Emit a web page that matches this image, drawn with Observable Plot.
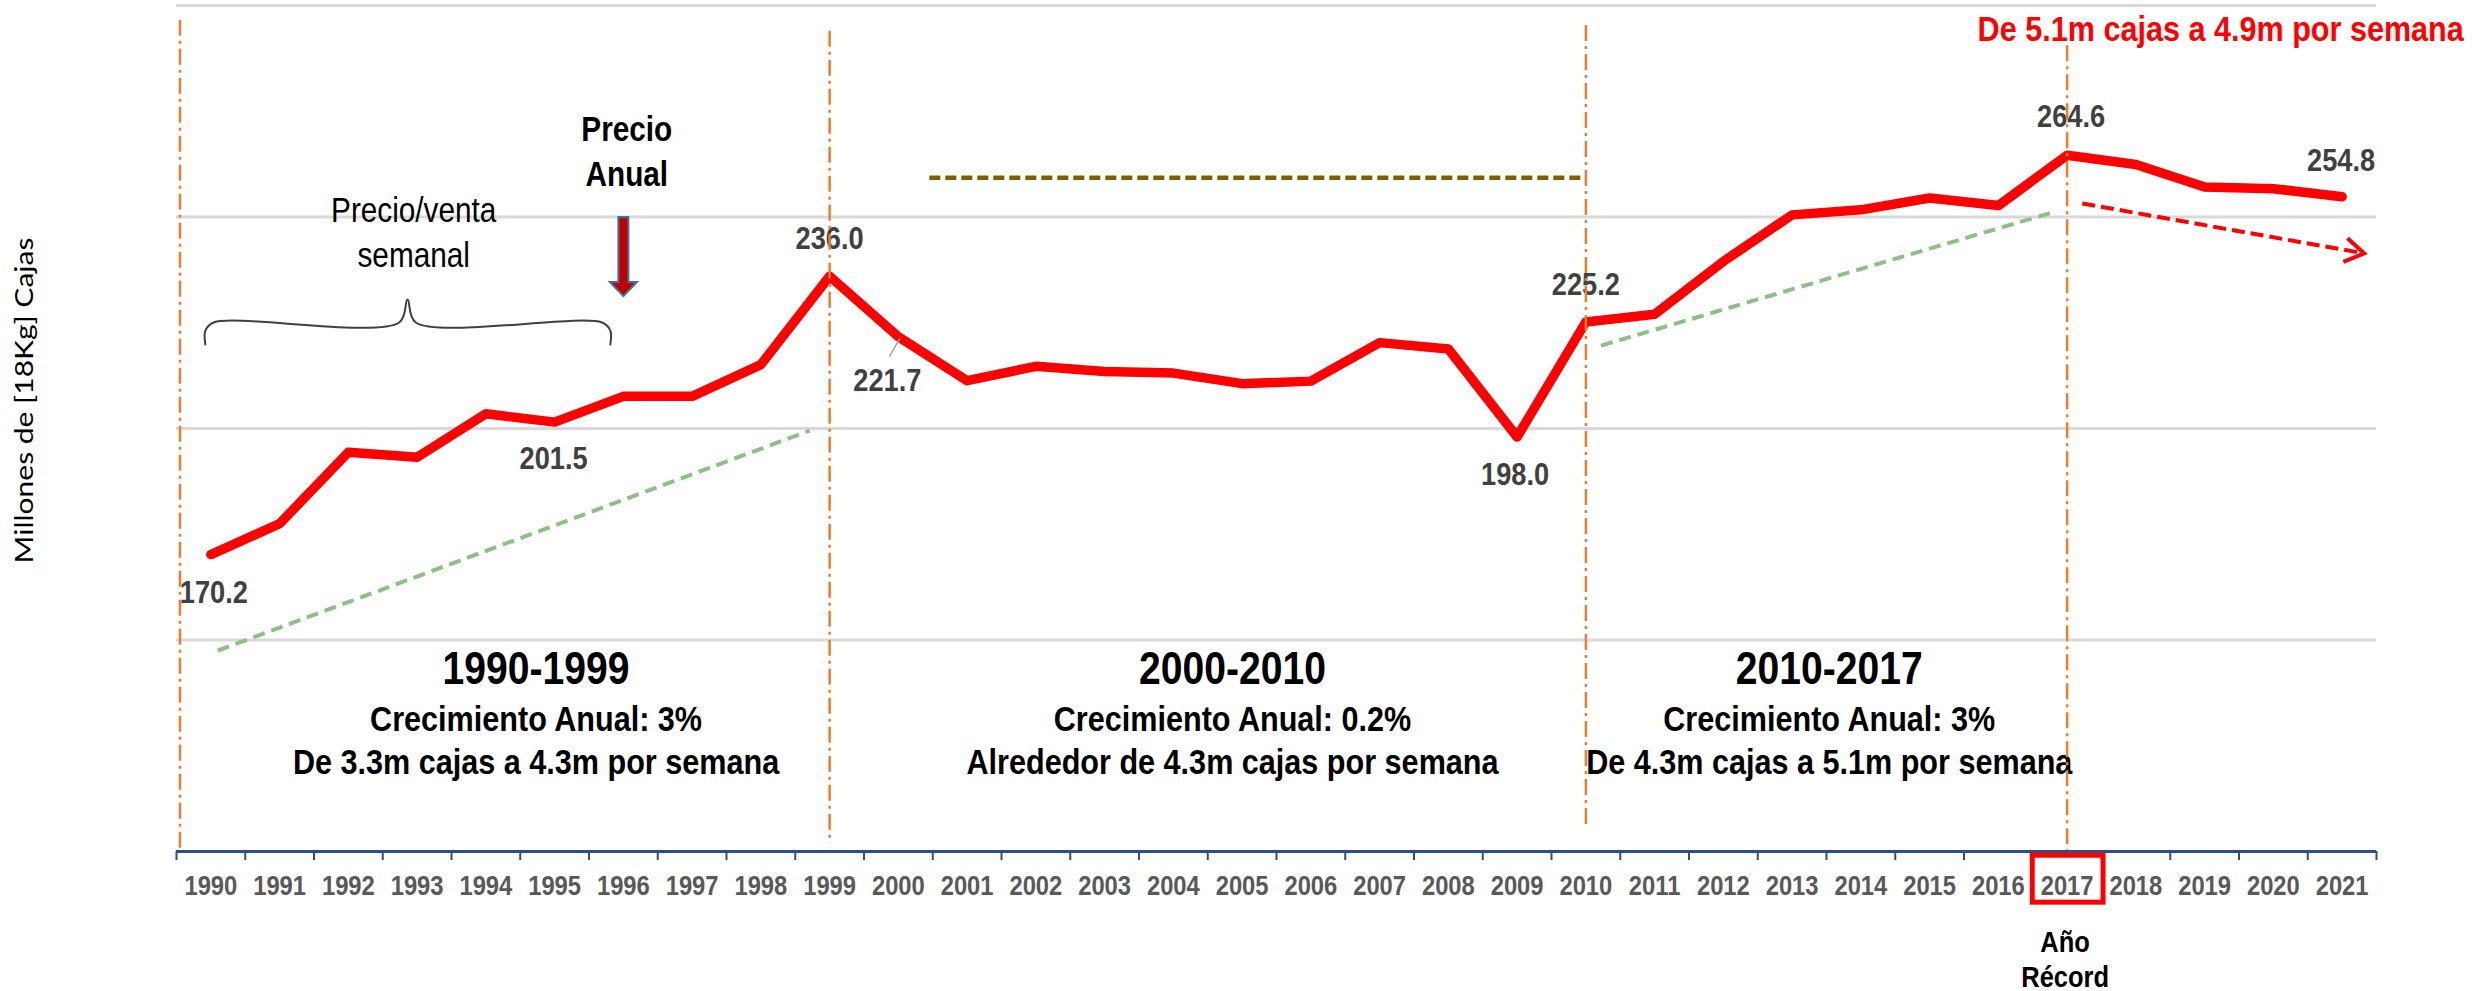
<!DOCTYPE html>
<html>
<head>
<meta charset="utf-8">
<script src="https://cdn.jsdelivr.net/npm/d3@7"></script>
<script src="https://cdn.jsdelivr.net/npm/@observablehq/plot@0.6"></script>
<style>
html, body { margin: 0; padding: 0; background: #ffffff; }
#chart svg { display: block; }
</style>
</head>
<body>
<div id="chart"></div>
<script>
// ---------- DATA ----------
const years = [1990, 1991, 1992, 1993, 1994, 1995, 1996, 1997, 1998, 1999,
               2000, 2001, 2002, 2003, 2004, 2005, 2006, 2007, 2008, 2009,
               2010, 2011, 2012, 2013, 2014, 2015, 2016, 2017, 2018, 2019,
               2020, 2021];
const boxes = [170.2, 177.5, 194.4, 193.2, 203.5, 201.5, 207.6, 207.6, 215.1, 236.0,
               221.7, 211.3, 214.7, 213.5, 213.1, 210.6, 211.2, 220.3, 218.8, 198.0,
               225.2, 227.0, 239.5, 250.5, 251.7, 254.5, 252.7, 264.6, 262.4, 257.1,
               256.7, 254.8];
const labelYears = [1990, 1995, 1999, 2000, 2009, 2010, 2017, 2021];
const gridValues = [150, 200, 250, 300];
const periodNames = ["1990-1999", "2000-2010", "2010-2017"];
const periodGrowth = ["Crecimiento Anual: 3%", "Crecimiento Anual: 0.2%", "Crecimiento Anual: 3%"];
const periodDetail = ["De 3.3m cajas a 4.3m por semana", "Alrededor de 4.3m cajas por semana", "De 4.3m cajas a 5.1m por semana"];
const periodBreaks = [1989.55, 1999, 2010, 2017];
const recordYear = 2017;
const yLabel = "Millones de [18Kg] Cajas";
const redNote = "De 5.1m cajas a 4.9m por semana";
const priceNote = "Precio\nAnual";
const weeklyNote = "Precio/venta\nsemanal";
const recordNote = "Año\nRécord";

// ---------- LAYOUT (annotation placement in data units) ----------
const layout = {
  periodX: [1994.73, 2004.86, 2013.54],
  breakTop: [296.5, 293.9, 295.3, 290.5],
  breakBottom: [100, 101.9, 105.4, 100],
  trends: [
    {x1: 1990.10, y1: 147.5, x2: 1998.71, y2: 199.5},
    {x1: 2010.22, y1: 219.6, x2: 2016.79, y2: 251.1}
  ],
  flat: {x1: 2000.45, x2: 2009.95, y: 259.3},
  decline: {x1: 2017.22, y1: 253.2, x2: 2021.32, y2: 241.4},
  brace: {x1: 1989.92, x2: 1995.81, xm: 1992.86, yBar: 225.06, yEnd: 219.86, yTip: 230.5},
  labelOffset: {1990: [3, 38], 1995: [-1, 37], 1999: [0, -37], 2000: [-11, 44],
                2009: [-2, 38], 2010: [0, -37], 2017: [4, -38], 2021: [-1, -36]},
  leader: {x1: 2000.02, y1: 221.3, x2: 1999.87, y2: 217.0}
};

// ---------- BUILD ----------
const series = years.map((y, i) => ({year: y, value: boxes[i]}));
const boundaries = years.map(y => y - 0.5).concat([years[years.length - 1] + 0.5]);
const labels = labelYears.map(y => ({year: y, value: boxes[years.indexOf(y)]}));
const periods = periodNames.map((n, i) => ({name: n, growth: periodGrowth[i], detail: periodDetail[i], x: layout.periodX[i]}));
const breaks = periodBreaks.map((x, i) => ({x, top: layout.breakTop[i], bottom: layout.breakBottom[i]}));

const b = layout.brace;
const cx = 0.12, cy = 1.9;
const bracePts = [
  [b.x1, b.yEnd], [b.x1, b.yBar - cy], [b.x1 + cx, b.yBar], [b.xm - cx, b.yBar], [b.xm, b.yTip],
  [b.xm + cx, b.yBar], [b.x2 - cx, b.yBar], [b.x2, b.yBar - cy], [b.x2, b.yEnd]
];

// block arrow (downward) drawn relative to its top centre, in pixels
const blockArrow = {
  draw(ctx) {
    ctx.moveTo(-5, 0); ctx.lineTo(5, 0); ctx.lineTo(5, 65); ctx.lineTo(13.5, 65);
    ctx.lineTo(0, 79); ctx.lineTo(-13.5, 65); ctx.lineTo(-5, 65); ctx.closePath();
  }
};
// open chevron arrowhead pointing right, tip at origin
const chevron = {
  draw(ctx) {
    ctx.moveTo(-19, -12); ctx.lineTo(0, 0); ctx.lineTo(-19, 12);
  }
};

const F = "Liberation Sans, Arial, Helvetica, sans-serif";
const navy = "#2F4E82";

const marks = [
  Plot.ruleY(gridValues, {stroke: "#D9D9D9", strokeWidth: 3}),
  Plot.line(bracePts, {x: d => d[0], y: d => d[1], curve: "catmull-rom", stroke: "#404040", strokeWidth: 2}),
  Plot.link(layout.trends, {x1: "x1", y1: "y1", x2: "x2", y2: "y2", stroke: "#8DBF87", strokeWidth: 4, strokeDasharray: "12,7"}),
  Plot.link([layout.flat], {x1: "x1", x2: "x2", y1: "y", y2: "y", stroke: "#7F6000", strokeWidth: 4.5, strokeDasharray: "11,5"}),
  Plot.line(series, {x: "year", y: "value", stroke: "#FF0000", strokeWidth: 9.5, strokeLinejoin: "round", strokeLinecap: "round"}),
  Plot.link([layout.decline], {x1: "x1", y1: "y1", x2: d => d.x2 - 0.03, y2: d => d.y2 + 0.09, stroke: "#FF0000", strokeWidth: 4, strokeDasharray: "13,6"}),
  Plot.dot([layout.decline], {x: "x2", y: "y2", symbol: chevron, rotate: 10, fill: "none", stroke: "#FF0000", strokeWidth: 4, strokeLinejoin: "miter"}),
  Plot.dot([1996], {x: d => d, y: 250, symbol: blockArrow, fill: "#C00000", stroke: "#41719C", strokeWidth: 2}),
  Plot.link([layout.leader], {x1: "x1", y1: "y1", x2: "x2", y2: "y2", stroke: "#A6A6A6", strokeWidth: 1.5}),
];

labels.forEach(l => {
  const [dx, dy] = layout.labelOffset[l.year];
  marks.push(Plot.text([l], {x: "year", y: "value", text: d => d.value.toFixed(1), dx, dy,
    fontFamily: F, fontWeight: "bold", fontSize: 32, fill: "#404040", lineAnchor: "middle"}));
});

marks.push(
  Plot.text(periods, {x: "x", y: 139.7, text: "name", fontFamily: F, fontWeight: "bold", fontSize: 46, fill: "#000", lineAnchor: "bottom", ariaLabel: "period-title"}),
  Plot.text(periods, {x: "x", y: 128.6, text: "growth", fontFamily: F, fontWeight: "bold", fontSize: 36, fill: "#000", lineAnchor: "bottom"}),
  Plot.text(periods, {x: "x", y: 118.4, text: "detail", fontFamily: F, fontWeight: "bold", fontSize: 36, fill: "#000", lineAnchor: "bottom"}),
  Plot.text([priceNote], {x: 1996.05, y: 257.4, text: d => d, fontFamily: F, fontWeight: "bold", fontSize: 35, fill: "#000", lineAnchor: "bottom", lineHeight: 45 / 35}),
  Plot.text([weeklyNote], {x: 1992.95, y: 238.1, text: d => d, fontFamily: F, fontWeight: "normal", fontSize: 35, fill: "#000", lineAnchor: "bottom", lineHeight: 45 / 35}),
  Plot.ruleX(breaks, {x: "x", y1: "top", y2: "bottom", stroke: "#ED7D31", strokeWidth: 2.5, strokeDasharray: "16,5,3,5"}),
  Plot.ruleY([100], {stroke: navy, strokeWidth: 3}),
  Plot.axisX(boundaries, {anchor: "bottom", tickSize: 9, tickFormat: () => "", stroke: navy, strokeWidth: 2, label: null}),
  Plot.axisX(years, {anchor: "bottom", tickSize: 0, tickPadding: 24, tickFormat: d => String(d), fontFamily: F, fontWeight: "bold", fontSize: 28, color: "#595959", label: null}),
  Plot.rect([recordYear], {x1: d => d - 0.5, x2: d => d + 0.53, y1: 99.0, y2: 87.9, fill: "none", stroke: "#FF0000", strokeWidth: 5}),
  Plot.text([recordNote], {x: recordYear, frameAnchor: "bottom", dy: 76, dx: -2, text: d => d, fontFamily: F, fontWeight: "bold", fontSize: 30, fill: "#000", lineAnchor: "top", textAnchor: "middle", lineHeight: 35 / 30}),
  Plot.text([yLabel], {frameAnchor: "left", dx: -152, dy: -28, rotate: -90, text: d => d, textAnchor: "middle", fontFamily: "Lato, Carlito, sans-serif", fontSize: 30, fill: "#000"}),
  Plot.text([redNote], {x: 2022.77, frameAnchor: "top", dy: 35, text: d => d, textAnchor: "end", lineAnchor: "bottom", fontFamily: F, fontWeight: "bold", fontSize: 36, fill: "#FF0000"})
);

const chart = Plot.plot({
  width: 2484,
  height: 991,
  marginLeft: 176,
  marginRight: 108,
  marginTop: 5,
  marginBottom: 140,
  x: {type: "linear", domain: [1989.5, 2021.5], label: null},
  y: {domain: [100, 300], axis: null, label: null},
  style: {fontFamily: F, background: "#ffffff", overflow: "visible"},
  marks
});

document.getElementById("chart").appendChild(chart);

// ---------- post-processing: condensed text + shadows ----------
const svg = chart.tagName.toLowerCase() === "svg" ? chart : chart.querySelector("svg");
d3.select(svg).selectAll("text").each(function () {
  const t = this.getAttribute("transform");
  if (!t) return;
  if (/rotate/.test(t)) this.setAttribute("transform", t + " scale(1,0.85)");
  else this.setAttribute("transform", t + " scale(0.85,1)");
});
const defs = d3.select(svg).insert("defs", ":first-child");
defs.append("filter").attr("id", "tshadow").attr("x", "-10%").attr("y", "-30%").attr("width", "130%").attr("height", "170%")
  .append("feDropShadow").attr("dx", 3).attr("dy", 3).attr("stdDeviation", 2)
  .attr("flood-color", "#000").attr("flood-opacity", 0.45);
d3.select(svg).selectAll('g[aria-label="period-title"] text').attr("filter", "url(#tshadow)");
</script>
</body>
</html>
